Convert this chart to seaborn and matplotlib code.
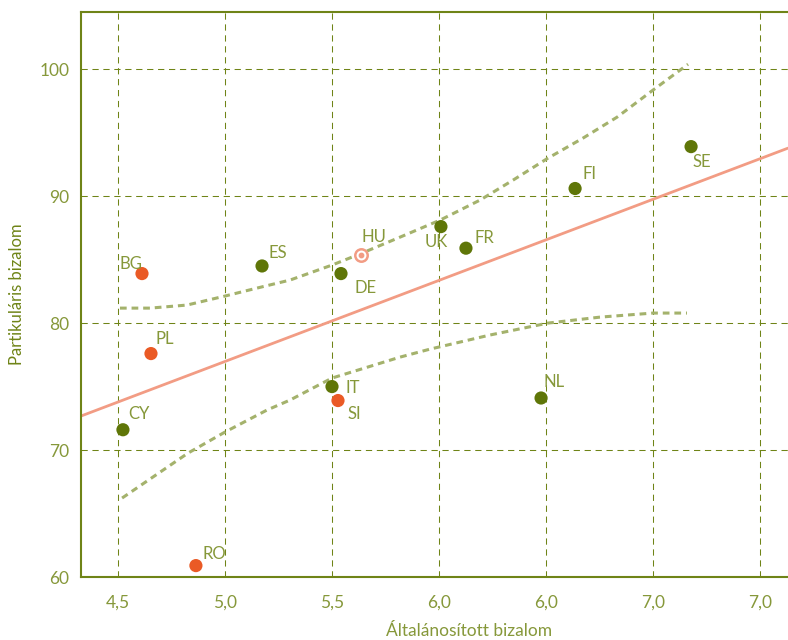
import numpy as np
import pandas as pd
import matplotlib
matplotlib.use('Agg')
import matplotlib.pyplot as plt
import seaborn as sns

# Data
countries = ['BG', 'PL', 'CY', 'RO', 'ES', 'DE', 'HU', 'IT', 'SI', 'UK', 'FR', 'FI', 'NL', 'SE']
general_trust = [4.612, 4.654, 4.523, 4.864, 5.173, 5.542, 5.636, 5.500, 5.528, 6.009, 6.126, 6.636, 6.477, 7.178]
particular_trust = [83.9, 77.6, 71.6, 60.9, 84.5, 83.9, 85.4, 75.0, 73.9, 87.6, 85.9, 90.6, 74.1, 93.9]
group = ['new', 'new', 'old', 'new', 'old', 'old', 'hu', 'old', 'new', 'old', 'old', 'old', 'old', 'old']

# fitted line (end points at the plot edges)
fit_x = [4.327, 7.631]
fit_y = [72.68, 93.78]

# confidence limits
upper_x = [4.509, 4.650, 4.822, 5.0, 5.150, 5.304, 5.5, 5.640, 5.818, 6.005, 6.192, 6.346, 6.509, 6.673, 6.832, 7.0, 7.164]
upper_y = [81.18, 81.18, 81.42, 82.13, 82.76, 83.39, 84.57, 85.51, 86.77, 88.11, 89.69, 91.26, 92.99, 94.57, 96.22, 98.35, 100.39]
lower_x = [4.519, 4.827, 5.0, 5.196, 5.304, 5.5, 5.818, 5.958, 6.238, 6.509, 6.752, 7.0, 7.159]
lower_y = [66.22, 69.76, 71.42, 73.15, 73.94, 75.67, 77.32, 77.95, 79.06, 80.0, 80.47, 80.79, 80.79]

x_ticks = [4.5, 5.0, 5.5, 6.0, 6.5, 7.0, 7.5]
x_ticklabels = ['4,5', '5,0', '5,5', '6,0', '6,0', '7,0', '7,0']
y_ticks = [60, 70, 80, 90, 100]

df = pd.DataFrame({'country': countries, 'x': general_trust, 'y': particular_trust, 'group': group})

sns.set_style('white')
plt.rcParams['font.family'] = ['Lato', 'DejaVu Sans']

olive = '#6f8417'
olive_txt = '#86983a'
light_olive = '#a4b26c'
salmon = '#f29c84'
orange = '#ea5a25'
green = '#5f7608'

fig = plt.figure(figsize=(7.88, 6.4), dpi=100)
ax = fig.add_axes([0.1028, 0.0984, 0.8972, 0.8828])

# grid
for xt in x_ticks:
    ax.axvline(xt, color=olive, lw=0.75, ls=(0, (6, 4.5)), zorder=0)
for yt in y_ticks[1:]:
    ax.axhline(yt, color=olive, lw=0.75, ls=(0, (6, 4.5)), zorder=0)

# fit line and confidence limits
sns.lineplot(x=fit_x, y=fit_y, ax=ax, color=salmon, lw=2.0, zorder=2)
sns.lineplot(x=upper_x, y=upper_y, ax=ax, color=light_olive, lw=2.2, ls=(0, (2.2, 1.6)), zorder=2)
sns.lineplot(x=lower_x, y=lower_y, ax=ax, color=light_olive, lw=2.2, ls=(0, (2.2, 1.6)), zorder=2)

# points
filled = df[df['group'] != 'hu']
sns.scatterplot(data=filled, x='x', y='y', hue='group', palette={'old': green, 'new': orange},
                s=90, edgecolor='none', legend=False, ax=ax, zorder=3)
hu = df[df['group'] == 'hu']
ax.scatter(hu['x'], hu['y'], s=80, facecolor='white', edgecolor=salmon, linewidth=1.8, zorder=3)
ax.scatter(hu['x'], hu['y'], s=10, color=salmon, zorder=4)

# point labels (offsets in points, baseline of text)
offsets = {'BG': (-16, 3.5), 'PL': (3.5, 7), 'CY': (3.5, 8), 'RO': (4.5, 4.5), 'ES': (4.5, 6),
           'DE': (10, -14), 'HU': (0, 9), 'IT': (10, -4.5), 'SI': (6.5, -13),
           'UK': (-11.5, -14.5), 'FR': (6, 3.5), 'FI': (5, 7), 'NL': (2, 8), 'SE': (0.7, -14.5)}
for _, r in df.iterrows():
    dx, dy = offsets[r['country']]
    ax.annotate(r['country'], (r['x'], r['y']), xytext=(dx, dy), textcoords='offset points',
                fontsize=12, color=olive_txt)

ax.set_xlim(4.327, 7.631)
ax.set_ylim(60, 104.5)
ax.set_xticks(x_ticks)
ax.set_xticklabels(x_ticklabels)
ax.set_yticks(y_ticks)
ax.tick_params(axis='both', colors=olive, labelcolor=olive_txt, labelsize=12.5, length=5, width=0.75,
               direction='out')
ax.tick_params(axis='x', pad=8)

for side in ['left', 'bottom', 'top']:
    ax.spines[side].set_color(olive)
    ax.spines[side].set_linewidth(1.5)
ax.spines['right'].set_visible(False)

ax.set_xlabel('Általánosított bizalom', fontsize=12.5, color=olive_txt)
ax.xaxis.set_label_coords(0.549, -0.081)
ax.set_ylabel('Partikuláris bizalom', fontsize=12, color=olive)
ax.yaxis.set_label_coords(-0.079, 0.5)

fig.savefig('out.png', dpi=100)
